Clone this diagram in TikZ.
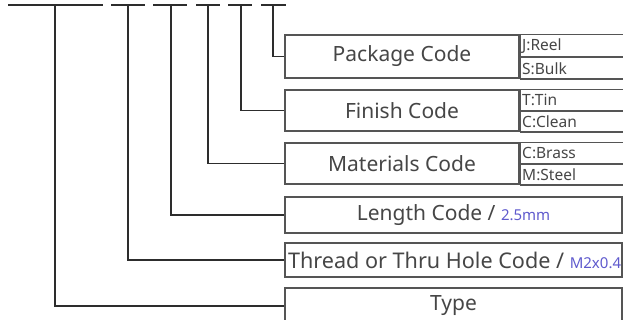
\documentclass[tikz,border=0pt]{standalone}
\usepackage{fontspec}
\setmainfont{Noto Sans}
\usetikzlibrary{positioning}
\definecolor{inkgray}{RGB}{70,70,70}
\definecolor{boxgray}{RGB}{85,85,85}
\definecolor{wiregray}{RGB}{45,45,45}
\definecolor{valueblue}{RGB}{95,90,205}

\begin{document}
\begin{tikzpicture}[
            x=1pt,
            y=-1pt,
            mainbox/.style={
				rectangle,
				draw=boxgray,
				line width=1.3pt,
				minimum width=234pt,
				inner sep=0pt,
				text=inkgray,
				font=\fontsize{21}{24}\selectfont
			},
            fullbox/.style={
				mainbox,
				minimum width=337pt
			},
            codebox/.style={
				rectangle,
				draw=boxgray,
				line width=1.1pt,
				minimum width=103pt,
				inner sep=0pt,
				text width=99pt,
				align=left,
				text=inkgray,
				font=\fontsize{15.5}{16}\selectfont
			},
            wire/.style={
				draw=wiregray,
				line width=1.8pt
			},
            bar/.style={
				draw=wiregray,
				line width=2.6pt
			}
        ]

        \useasboundingbox (0,0) rectangle (623,320);
        \clip (0,0) rectangle (623,320);

        % code boxes
        \node (pkg) [mainbox, minimum height=43pt] at (402,56.5) {Package Code};
        \node (pkgJ) [codebox, minimum height=21.5pt, anchor=north west] at (pkg.north east) {J:Reel};
        \node (pkgS) [codebox, minimum height=21.5pt, anchor=north west] at (pkgJ.south west) {S:Bulk};

        \node (fin) [mainbox, minimum height=41pt] at (402,110.5) {Finish Code};
        \node (finT) [codebox, minimum height=20.5pt, anchor=north west] at (fin.north east) {T:Tin};
        \node (finC) [codebox, minimum height=20.5pt, anchor=north west] at (finT.south west) {C:Clean};

        \node (mat) [mainbox, minimum height=41pt] at (402,163.5) {Materials Code};
        \node (matC) [codebox, minimum height=20.5pt, anchor=north west] at (mat.north east) {C:Brass};
        \node (matM) [codebox, minimum height=20.5pt, anchor=north west] at (matC.south west) {M:Steel};

        \node (len) [fullbox, minimum height=36pt] at (453.5,215) {Length Code / {\fontsize{15}{16}\selectfont\color{valueblue}2.5mm}};
        \node (thr) [fullbox, minimum height=34pt, font=\fontsize{21.6}{24}\selectfont] at (453.5,260) {\makebox[331pt][l]{Thread or Thru Hole Code / {\fontsize{15}{16}\selectfont\color{valueblue}M2x0.4}}};
        \node (typ) [fullbox, minimum height=36pt] at (453.5,306) {Type};

        % top code bar
        \coordinate (tk1) at (55,5);
        \coordinate (tk2) at (128,5);
        \coordinate (tk3) at (171,5);
        \coordinate (tk4) at (208,5);
        \coordinate (tk5) at (241,5);
        \coordinate (tk6) at (273,5);

        \draw [bar] (8,5) -- (103,5);
        \draw [bar] (111,5) -- (145,5);
        \draw [bar] (153,5) -- (187,5);
        \draw [bar] (196,5) -- (220,5);
        \draw [bar] (228,5) -- (252,5);
        \draw [bar] (261,5) -- (286,5);

        \draw [wire] (tk1) |- (typ.west);
        \draw [wire] (tk2) |- (thr.west);
        \draw [wire] (tk3) |- (len.west);
        \draw [wire] (tk4) |- (mat.west);
        \draw [wire] (tk5) |- (fin.west);
        \draw [wire] (tk6) |- (pkg.west);

        \end{tikzpicture}
\end{document}
